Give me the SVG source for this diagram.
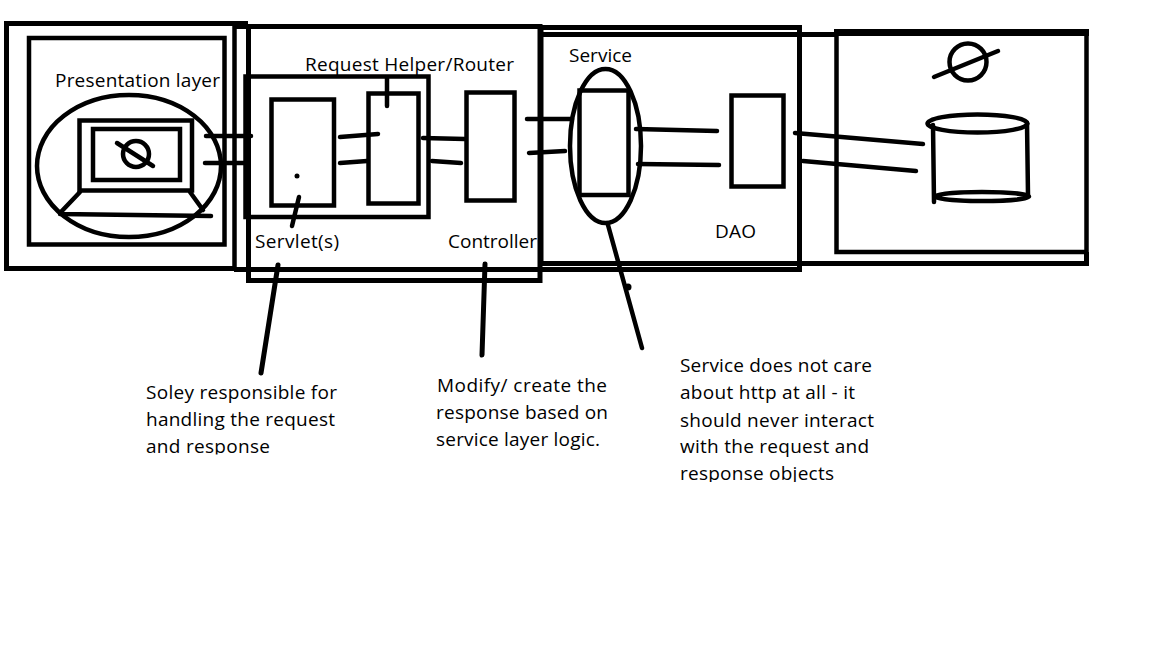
<svg xmlns="http://www.w3.org/2000/svg" width="1152" height="648" viewBox="0 0 1152 648">
<style>
.s{fill:none;stroke:#000;stroke-width:4.5}
.b{fill:none;stroke:#000;stroke-width:5}
.l{fill:none;stroke:#000;stroke-width:4.5;stroke-linecap:round}
.p{fill:none;stroke:#000;stroke-width:5;stroke-linecap:round}
text{font-family:"Open Sans","Noto Sans","Liberation Sans",sans-serif;font-size:19px;fill:#000}
</style>
<defs>
<clipPath id="c1"><rect x="140" y="380" width="210" height="74.500"/></clipPath>
<clipPath id="c2"><rect x="670" y="350" width="220" height="132"/></clipPath>
</defs>
<rect width="1152" height="648" fill="#fff"/>
<g id="presentation-layer">
<path class="b" d="M248 23.500H6.500V268.500H234.500"/>
<rect class="s" x="29" y="38" width="195.500" height="206.500"/>
<ellipse class="s" cx="129" cy="166" rx="92" ry="71"/>
<rect class="s" x="79.500" y="120.500" width="112.500" height="70"/>
<rect class="s" x="93" y="129" width="87" height="51"/>
<circle class="s" cx="136" cy="154" r="13"/>
<path class="l" d="M117 143L153 166M80 192L60 213M190 192L203 210M60 214L135 215L211 216"/>
<text x="55" y="87" textLength="165">Presentation layer</text>
</g>
<g id="web-layer">
<path class="s" d="M234.500 26V268.500"/>
<path class="b" d="M234 26.500H540V280.500H248.500V24"/>
<path class="b" d="M234 269.500H802"/>
<rect class="s" x="245.500" y="76.500" width="183" height="140.500"/>
<text x="255" y="248" textLength="84">Servlet(s)</text>
<text x="448" y="248" textLength="89">Controller</text>
</g>
<g id="servlet">
<rect class="s" x="271.500" y="99.500" width="62.500" height="106"/>
<circle cx="297" cy="176" r="2.500"/>
<path class="l" d="M299 197L292 226"/>
</g>
<g id="request-helper">
<rect class="s" x="368.500" y="93.500" width="50" height="110"/>
<path class="l" d="M387 78V106"/>
<text x="305" y="71" textLength="209">Request Helper/Router</text>
</g>
<g id="controller">
<rect class="s" x="466.500" y="92.500" width="48" height="108"/>
</g>
<g id="service-layer">
<path class="b" d="M540 27.500H799.500V269M541 27V266"/>
<ellipse class="s" cx="605.500" cy="146" rx="35.500" ry="77"/>
<rect class="s" x="579.500" y="90.500" width="49" height="104.500"/>
<text x="569" y="62" textLength="63">Service</text>
</g>
<g id="dao">
<rect class="s" x="731.500" y="95.500" width="52" height="91"/>
<text x="715" y="238" textLength="41">DAO</text>
</g>
<g id="database-layer">
<path class="b" d="M540 34.500H836M540 263.500H1086.500V252"/>
<path class="s" d="M836.500 32V252H1086.500V32"/>
<path d="M834 29H1089V36H834Z"/>
<circle class="s" cx="968" cy="62" r="18.500"/>
<path class="l" d="M934 77L998 51"/>
<ellipse class="s" cx="977.500" cy="123.500" rx="50" ry="9"/>
<path class="l" d="M933 125L934 202M1027 123L1028 195"/>
<ellipse class="s" cx="982" cy="196.500" rx="47" ry="4.500"/>
</g>
<g id="connectors">
<path class="l" d="M206 136H251M205 163H245"/>
<path class="l" d="M340 137L378 134M340 163L367 161"/>
<path class="l" d="M423 138L465 139M432 161L461 163"/>
<path class="l" d="M527 119H572M529 153L565 151"/>
<path class="l" d="M636 129L717 131M638 164L719 165"/>
<path class="l" d="M795 133L923 144M803 161L916 171"/>
<path class="p" d="M278 265L261 373"/>
<path class="p" d="M485 264L482 355"/>
<path class="l" d="M608 225L642 348"/>
<circle cx="628" cy="287" r="3.500"/>
</g>
<g id="note-servlet" clip-path="url(#c1)">
<text x="146" y="399" textLength="191">Soley responsible for</text>
<text x="146" y="426" textLength="189">handling the request</text>
<text x="146" y="453" textLength="124">and response</text>
</g>
<g id="note-controller">
<text x="437" y="392" textLength="170">Modify/ create the</text>
<text x="436" y="419" textLength="172">response based on</text>
<text x="436" y="446" textLength="164">service layer logic.</text>
</g>
<g id="note-service" clip-path="url(#c2)">
<text x="680" y="372" textLength="192">Service does not care</text>
<text x="680" y="399" textLength="175">about http at all - it</text>
<text x="680" y="427" textLength="194">should never interact</text>
<text x="680" y="453" textLength="189">with the request and</text>
<text x="680" y="480" textLength="154">response objects</text>
</g>
</svg>
